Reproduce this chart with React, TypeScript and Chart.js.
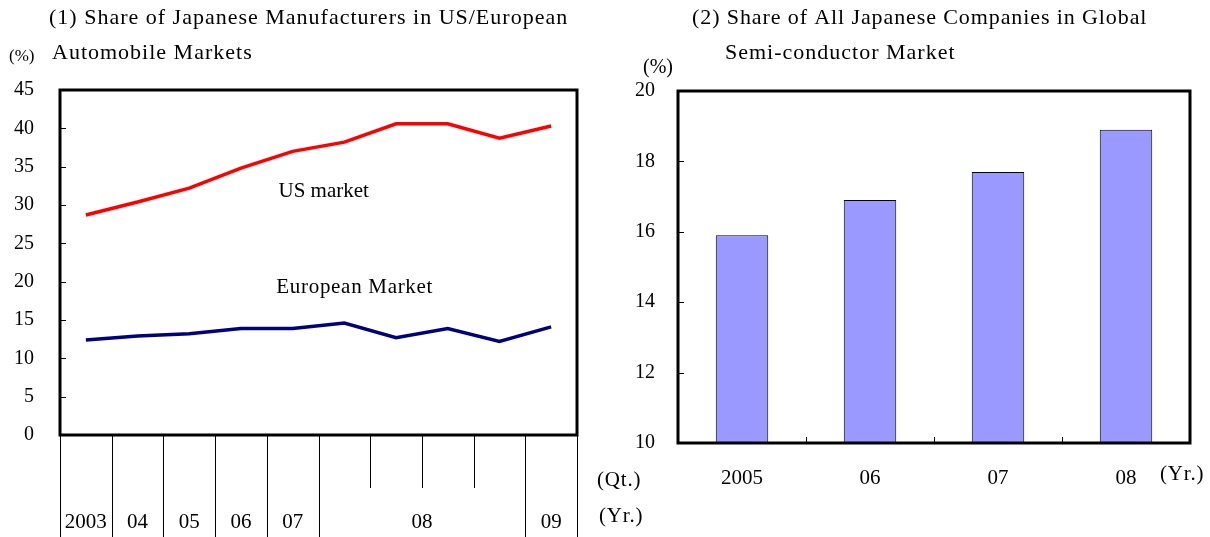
import React, { useEffect, useRef } from 'react';
import { Chart, registerables } from 'chart.js';

Chart.register(...registerables);

// ---- Data ----
const autoPeriods = ['2003', '04', '05', '06', '07', '08 Q1', '08 Q2', '08 Q3', '08 Q4', '09 Q1'];
const autoYearLabels = ['2003', '04', '05', '06', '07', '08', '08', '08', '08', '09'];
const usShare = [28.7, 30.4, 32.2, 34.8, 37.0, 38.2, 40.6, 40.6, 38.7, 40.3];
const europeShare = [12.4, 12.9, 13.2, 13.9, 13.9, 14.6, 12.7, 13.9, 12.2, 14.1];
const autoYMin = 0;
const autoYMax = 45;
const autoYStep = 5;

const semiYears = ['2005', '06', '07', '08'];
const semiShare = [15.9, 16.9, 17.7, 18.9];
const semiYMin = 10;
const semiYMax = 20;
const semiYStep = 2;

const W = 1210;
const H = 537;
const FONT = '"Liberation Serif", "Times New Roman", serif';

function drawText(
  ctx: CanvasRenderingContext2D,
  text: string,
  x: number,
  y: number,
  size = 21,
  align: CanvasTextAlign = 'left',
  spacing = 0
) {
  ctx.save();
  ctx.font = `${size}px ${FONT}`;
  ctx.fillStyle = '#000';
  ctx.textBaseline = 'middle';
  ctx.textAlign = align;
  (ctx as any).letterSpacing = `${spacing}px`;
  ctx.fillText(text, x, y);
  ctx.restore();
}

const autoPlugin = {
  id: 'autoDecor',
  afterDraw(chart: any) {
    const { ctx, chartArea } = chart;
    const { left, right, top, bottom } = chartArea;
    const xs = chart.scales.x;
    const ys = chart.scales.y;
    ctx.save();
    ctx.strokeStyle = '#000';
    ctx.lineWidth = 1;
    ys.ticks.forEach((t: any) => {
      if (t.value === autoYMin || t.value === autoYMax) return;
      const y = Math.round(ys.getPixelForValue(t.value)) + 0.5;
      ctx.beginPath();
      ctx.moveTo(left, y);
      ctx.lineTo(left + 6, y);
      ctx.stroke();
    });
    ctx.lineWidth = 3;
    ctx.strokeRect(left, top, right - left, bottom - top);
    const n = autoPeriods.length;
    const bounds: number[] = [];
    for (let i = 0; i <= n; i++) {
      if (i === 0) bounds.push(left);
      else if (i === n) bounds.push(right);
      else bounds.push((xs.getPixelForValue(i - 1) + xs.getPixelForValue(i)) / 2);
    }
    ctx.lineWidth = 1;
    for (let i = 0; i <= n; i++) {
      const full = i === 0 || i === n || autoYearLabels[i] !== autoYearLabels[i - 1];
      const x = Math.round(bounds[i]) + 0.5;
      ctx.beginPath();
      ctx.moveTo(x, bottom + 1);
      ctx.lineTo(x, full ? H : bottom + 53);
      ctx.stroke();
    }
    let start = 0;
    for (let i = 1; i <= n; i++) {
      if (i === n || autoYearLabels[i] !== autoYearLabels[start]) {
        const cx = (bounds[start] + bounds[i]) / 2;
        drawText(ctx, autoYearLabels[start], cx, bottom + 87, 21, 'center');
        start = i;
      }
    }
    drawText(ctx, '(1) Share of Japanese Manufacturers in US/European', 49, 18, 22, 'left', 1.0);
    drawText(ctx, 'Automobile Markets', 52, 53, 22, 'left', 1.0);
    drawText(ctx, '(%)', 9, 57, 17);
    drawText(ctx, 'US market', xs.getPixelForValue(4.6), ys.getPixelForValue(31.8), 21, 'center');
    drawText(ctx, 'European Market', xs.getPixelForValue(5.2), ys.getPixelForValue(19.2), 21, 'center', 0.7);
    drawText(ctx, '(Qt.)', 597, 480, 21, 'left', 0.8);
    drawText(ctx, '(Yr.)', 599, 516, 21, 'left', 0.8);
    ctx.restore();
  },
};

const semiPlugin = {
  id: 'semiDecor',
  afterDraw(chart: any) {
    const { ctx, chartArea } = chart;
    const { left, right, top, bottom } = chartArea;
    const xs = chart.scales.x;
    const ys = chart.scales.y;
    ctx.save();
    ctx.strokeStyle = '#000';
    ctx.lineWidth = 1;
    ys.ticks.forEach((t: any) => {
      if (t.value === semiYMin || t.value === semiYMax) return;
      const y = Math.round(ys.getPixelForValue(t.value)) + 0.5;
      ctx.beginPath();
      ctx.moveTo(left, y);
      ctx.lineTo(left + 6, y);
      ctx.stroke();
    });
    for (let i = 1; i < semiYears.length; i++) {
      const x = Math.round((xs.getPixelForValue(i - 1) + xs.getPixelForValue(i)) / 2) + 0.5;
      ctx.beginPath();
      ctx.moveTo(x, bottom);
      ctx.lineTo(x, bottom - 6);
      ctx.stroke();
    }
    ctx.lineWidth = 3;
    ctx.strokeRect(left, top, right - left, bottom - top);
    drawText(ctx, '(2) Share of All Japanese Companies in Global', 692, 18, 22, 'left', 0.9);
    drawText(ctx, 'Semi-conductor Market', 725, 53, 22, 'left', 1.0);
    drawText(ctx, '(%)', 643, 68, 20);
    drawText(ctx, '(Yr.)', 1160, 474, 21, 'left', 0.8);
    ctx.restore();
  },
};

export default function App() {
  const leftRef = useRef<HTMLCanvasElement>(null);
  const rightRef = useRef<HTMLCanvasElement>(null);

  useEffect(() => {
    document.body.style.margin = '0';
    Chart.defaults.font.family = FONT;
    Chart.defaults.font.size = 20;
    Chart.defaults.color = '#000';

    const left = new Chart(leftRef.current!, {
      type: 'line',
      data: {
        labels: autoPeriods,
        datasets: [
          { label: 'US market', data: usShare, borderColor: '#FF0000', borderWidth: 3.5, pointRadius: 0, tension: 0, fill: false },
          { label: 'European Market', data: europeShare, borderColor: '#000080', borderWidth: 3.5, pointRadius: 0, tension: 0, fill: false },
        ],
      },
      options: {
        responsive: false,
        animation: false,
        events: [],
        layout: { padding: { left: 0, top: 90, right: W - 577, bottom: H - 435 } },
        plugins: { legend: { display: false }, tooltip: { enabled: false }, title: { display: false } },
        scales: {
          x: { type: 'category', display: false, offset: true },
          y: {
            min: autoYMin,
            max: autoYMax,
            ticks: { stepSize: autoYStep, padding: 26, color: '#000', font: { size: 20, family: FONT } },
            grid: { display: false, drawTicks: false },
            border: { display: false },
            afterFit: (s: any) => { s.width = 60; },
          },
        },
      },
      plugins: [autoPlugin],
    });

    const right = new Chart(rightRef.current!, {
      type: 'bar',
      data: {
        labels: semiYears,
        datasets: [
          {
            label: 'Share',
            data: semiShare,
            backgroundColor: '#9999FF',
            borderColor: '#000',
            borderWidth: 1,
            barPercentage: 0.41,
            categoryPercentage: 1,
          },
        ],
      },
      options: {
        responsive: false,
        animation: false,
        events: [],
        layout: { padding: { left: 600, top: 91, right: W - 1190, bottom: 34 } },
        plugins: { legend: { display: false }, tooltip: { enabled: false }, title: { display: false } },
        scales: {
          x: {
            ticks: { padding: 23, color: '#000', font: { size: 21, family: FONT } },
            grid: { display: false, drawTicks: false },
            border: { display: false },
            afterFit: (s: any) => { s.height = H - 443 - 34; },
          },
          y: {
            min: semiYMin,
            max: semiYMax,
            ticks: { stepSize: semiYStep, padding: 23, color: '#000', font: { size: 20, family: FONT } },
            grid: { display: false, drawTicks: false },
            border: { display: false },
            afterFit: (s: any) => { s.width = 78; },
          },
        },
      },
      plugins: [semiPlugin],
    });

    return () => {
      left.destroy();
      right.destroy();
    };
  }, []);

  return (
    <div style={{ position: 'relative', width: W, height: H, background: '#fff' }}>
      <canvas ref={leftRef} width={W} height={H} style={{ position: 'absolute', left: 0, top: 0 }} />
      <canvas ref={rightRef} width={W} height={H} style={{ position: 'absolute', left: 0, top: 0 }} />
    </div>
  );
}
